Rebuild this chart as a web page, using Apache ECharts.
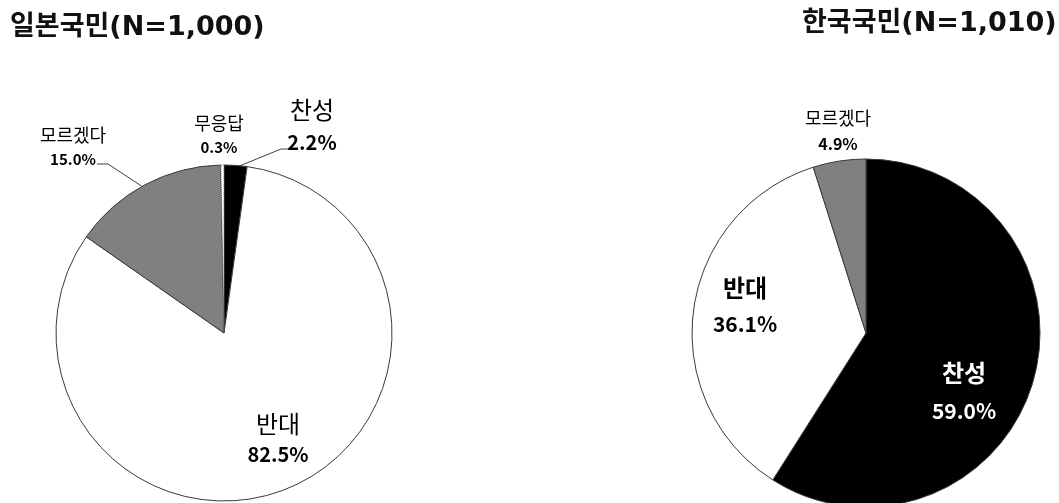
<!DOCTYPE html>
<html>
<head>
<meta charset="utf-8">
<style>
  html, body { margin: 0; padding: 0; background: #ffffff; }
  #chart { width: 1059px; height: 503px; }
</style>
<script src="https://cdn.jsdelivr.net/npm/echarts@6/dist/echarts.min.js"></script>
</head>
<body>
<div id="chart"></div>
<script>
// Survey answers, in clockwise order from 12 o'clock
const japanTitle = '일본국민(N=1,000)';
const japanCategories = ['찬성', '반대', '모르겠다', '무응답'];
const japanValues = [2.2, 82.5, 15.0, 0.3];

const koreaTitle = '한국국민(N=1,010)';
const koreaCategories = ['찬성', '반대', '모르겠다'];
const koreaValues = [59.0, 36.1, 4.9];

const FONT = '"Noto Sans CJK KR", "Noto Sans", sans-serif';
const TITLE_FONT = '"DejaVu Sans", "Noto Sans CJK KR", sans-serif';
const sliceColors = { '찬성': '#000000', '반대': '#ffffff', '모르겠다': '#808080', '무응답': '#ffffff' };

// Label placement for each slice: block centre, gap between the two lines, optional leader line
const japanLabelPlaces = {
  '찬성':   { x: 312, y: 126, gap: 33, line: [[237, 167], [281, 149], [288, 149]] },
  '반대':   { x: 278, y: 439, gap: 30 },
  '모르겠다': { x: 73,  y: 147, gap: 24, line: [[143, 187], [108, 164], [97, 164]] },
  '무응답': { x: 219, y: 135, gap: 24 }
};
const koreaLabelPlaces = {
  '찬성':   { x: 964, y: 392, gap: 39 },
  '반대':   { x: 745, y: 306, gap: 37 },
  '모르겠다': { x: 838, y: 131, gap: 25 }
};

// Text styles per label: [name style, percent style]
const japanStyles = {
  '찬성':   [{ size: 24, bold: false, color: '#000' }, { size: 20, bold: true, color: '#000' }],
  '반대':   [{ size: 24, bold: false, color: '#000' }, { size: 20, bold: true, color: '#000' }],
  '모르겠다': [{ size: 18, bold: false, color: '#000' }, { size: 15, bold: true, color: '#000' }],
  '무응답': [{ size: 18, bold: false, color: '#000' }, { size: 15, bold: true, color: '#000' }]
};
const koreaStyles = {
  '찬성':   [{ size: 24, bold: true, color: '#fff' }, { size: 21, bold: true, color: '#fff' }],
  '반대':   [{ size: 24, bold: true, color: '#000' }, { size: 21, bold: true, color: '#000' }],
  '모르겠다': [{ size: 18, bold: false, color: '#000' }, { size: 16, bold: true, color: '#000' }]
};

function richFor(style, lineHeight) {
  return {
    fontFamily: FONT,
    fontSize: style.size,
    fontWeight: style.bold ? 'bold' : 'normal',
    color: style.color,
    lineHeight: lineHeight
  };
}

function buildData(categories, values, styles, places) {
  return categories.map(function (name, i) {
    const place = places[name];
    const st = styles[name];
    const hasLine = !!place.line;
    const pct = values[i].toFixed(1) + '%';
    return {
      name: name,
      value: values[i],
      itemStyle: {
        color: sliceColors[name],
        borderColor: name === '무응답' ? '#555555' : '#3a3a3a',
        borderWidth: 1,
        borderType: name === '무응답' ? 'dotted' : 'solid'
      },
      label: {
        show: true,
        position: hasLine ? 'outside' : 'inside',
        formatter: '{n|' + name + '}\n{p|' + pct + '}',
        rich: {
          n: richFor(st[0], place.gap),
          p: richFor(st[1], place.gap)
        }
      },
      labelLine: { show: hasLine }
    };
  });
}

function layoutFor(categories, places) {
  return function (params) {
    const p = places[categories[params.dataIndex]];
    const out = { x: p.x, y: p.y, align: 'center', verticalAlign: 'middle' };
    if (p.line) out.labelLinePoints = p.line;
    return out;
  };
}

function pieSeries(center, radius, categories, values, styles, places) {
  return {
    type: 'pie',
    center: center,
    radius: radius,
    startAngle: 90,
    clockwise: true,
    avoidLabelOverlap: false,
    silent: true,
    animation: false,
    label: { fontFamily: FONT },
    labelLine: {
      show: false,
      smooth: false,
      lineStyle: { color: '#404040', width: 1 }
    },
    labelLayout: layoutFor(categories, places),
    data: buildData(categories, values, styles, places)
  };
}

const titleStyle = { fontFamily: TITLE_FONT, fontSize: 27, fontWeight: 'bold', color: '#111' };

const chart = echarts.init(document.getElementById('chart'), null, { renderer: 'canvas' });
chart.setOption({
  backgroundColor: '#ffffff',
  title: [
    { text: japanTitle, left: 5, top: 9, textStyle: titleStyle },
    { text: koreaTitle, left: 797, top: 5, textStyle: titleStyle }
  ],
  series: [
    pieSeries([224, 333], 168, japanCategories, japanValues, japanStyles, japanLabelPlaces),
    pieSeries([866, 333], 174, koreaCategories, koreaValues, koreaStyles, koreaLabelPlaces)
  ]
});
</script>
</body>
</html>
